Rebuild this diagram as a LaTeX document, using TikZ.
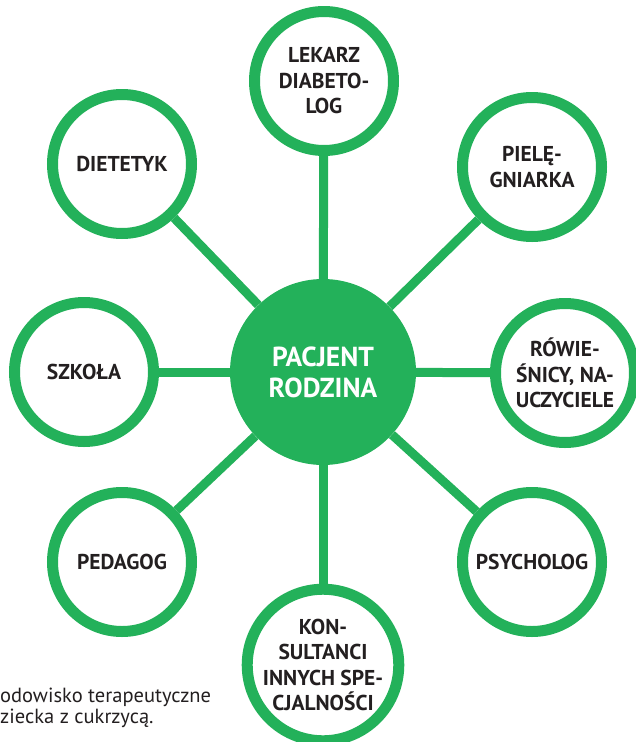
\documentclass[tikz,border=0pt]{standalone}
\usepackage{fontspec}
\setmainfont{PT Sans}
\definecolor{ringgreen}{HTML}{23B15A}
\definecolor{textdark}{HTML}{231F20}
\begin{document}
\begin{tikzpicture}[x=1pt,y=-1pt,
  ring/.style={circle,draw=ringgreen,line width=11pt,fill=white,minimum size=139pt,inner sep=0pt,
    align=center,text=textdark,font=\bfseries\fontsize{21.5}{25.5}\selectfont},
  hub/.style={circle,fill=ringgreen,minimum size=186pt,inner sep=0pt,align=center,text=white,
    font=\bfseries\fontsize{27.5}{31}\selectfont},
  spoke/.style={draw=ringgreen,line width=9pt},
  caption/.style={anchor=base west,inner sep=0pt,text=textdark,font=\fontsize{20.5}{21}\selectfont}]
\useasboundingbox (0,0) rectangle (635,742);
\node[hub] (c) at (323,372) {PACJENT\\RODZINA};
\node[ring] (lek) at (324,81) {LEKARZ\\DIABETO-\\LOG};
\node[ring] (pie) at (532,167) {PIELĘ-\\GNIARKA};
\node[ring] (row) at (565,373) {RÓWIE-\\ŚNICY, NA-\\UCZYCIELE};
\node[ring] (psy) at (532,562) {PSYCHOLOG};
\node[ring] (kon) at (323,665) {KON-\\SULTANCI\\INNYCH SPE-\\CJALNOŚCI};
\node[ring] (ped) at (122,562) {PEDAGOG};
\node[ring] (szk) at (84,372) {SZKOŁA};
\node[ring] (die) at (122,164) {DIETETYK};
\foreach \n in {lek,pie,row,psy,kon,ped,szk,die}{
  \draw[spoke] (c) -- (\n);
}
\node[caption] (cap1) at (0,702) {odowisko terapeutyczne};
\node[caption] (cap2) at (0,723) {ziecka z cukrzycą.};
\end{tikzpicture}
\end{document}
